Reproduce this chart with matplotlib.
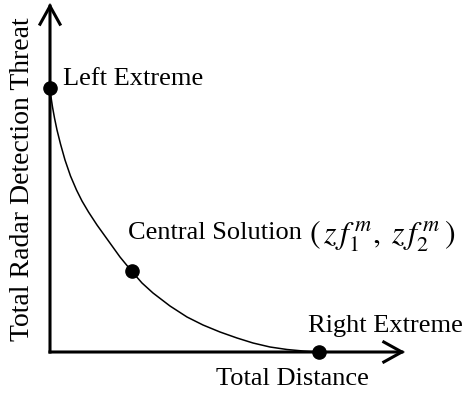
import matplotlib.pyplot as plt
from matplotlib.patches import FancyArrowPatch

plt.rcParams['font.family'] = ['Liberation Serif', 'DejaVu Serif']
plt.rcParams['mathtext.fontset'] = 'stix'

# Pareto front: total distance vs total radar detection threat
dist = [0.0, 0.01, 0.025, 0.045, 0.07, 0.105, 0.15, 0.205, 0.265, 0.32, 0.385, 0.47,
        0.585, 0.70, 0.815, 0.92, 1.03, 1.20, 1.37, 1.53, 1.70, 1.87, 2.03, 2.20,
        2.37, 2.53, 2.69]
threat = [2.64, 2.55, 2.45, 2.34, 2.22, 2.08, 1.92, 1.76, 1.62, 1.51, 1.40, 1.27,
          1.11, 0.95, 0.81, 0.69, 0.59, 0.46, 0.35, 0.27, 0.20, 0.14, 0.09, 0.05,
          0.025, 0.01, 0.0]

# marked solutions
pt_x = [0.0, 0.815, 2.69]
pt_y = [2.64, 0.81, 0.0]

fig = plt.figure(figsize=(4.65, 3.94), dpi=100)
ax = fig.add_axes([0, 0, 1, 1])
ax.set_xlim(-0.5, 4.15)
ax.set_ylim(-0.42, 3.52)
ax.axis('off')

# axes with open arrow heads
for end in [(3.55, 0.0), (0.0, 3.49)]:
    arr = FancyArrowPatch((0, 0), end, arrowstyle='->,head_length=0.65,head_width=0.36',
                          mutation_scale=20, lw=2.2, color='black',
                          shrinkA=0, shrinkB=0, joinstyle='miter', capstyle='projecting')
    ax.add_patch(arr)

ax.plot(dist, threat, color='black', lw=1.1, solid_joinstyle='round')
ax.plot(pt_x, pt_y, 'o', color='black', ms=9.5, zorder=5)

fs = 19
ax.text(0.13, 2.67, 'Left Extreme', fontsize=fs, ha='left', va='baseline')
t = ax.text(0.78, 1.13, 'Central Solution', fontsize=fs, ha='left', va='baseline')
ax.annotate(r'$(\,z\,f_1^{\,m},\; z\,f_2^{\,m}\,)$', xy=(1, 0), xycoords=t, xytext=(5, 0),
            textcoords='offset points', fontsize=23, ha='left', va='baseline')
ax.text(2.58, 0.20, 'Right Extreme', fontsize=fs, ha='left', va='baseline')
ax.text(2.42, -0.33, 'Total Distance', fontsize=fs, ha='center', va='baseline')
ax.text(-0.27, 1.73, 'Total Radar Detection Threat', fontsize=20, rotation=90,
        ha='center', va='center')

fig.savefig('out.png', dpi=100)
